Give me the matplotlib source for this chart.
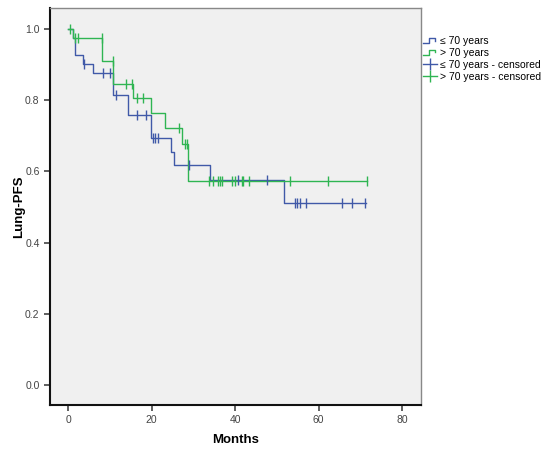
import matplotlib
matplotlib.use("Agg")
import matplotlib.pyplot as plt
from matplotlib.lines import Line2D
from matplotlib.legend_handler import HandlerBase

# --- data (Kaplan-Meier steps) ---
# <= 70 years
young_t = [0, 1.0, 1.5, 3.4, 5.8, 10.6, 14.2, 19.8, 24.5, 25.4, 34.0, 51.8, 71.5]
young_s = [1.0, 0.974, 0.927, 0.902, 0.876, 0.816, 0.758, 0.695, 0.655, 0.618, 0.576, 0.512, 0.512]
young_cens_t = [3.8, 8.2, 10.0, 11.4, 16.4, 18.6, 20.2, 20.9, 21.6, 29.0, 40.8, 47.7,
                54.4, 54.9, 55.6, 57.0, 65.6, 68.0, 71.2]
young_cens_s = [0.902, 0.876, 0.876, 0.816, 0.758, 0.758, 0.695, 0.695, 0.695, 0.618, 0.576, 0.576,
                0.512, 0.512, 0.512, 0.512, 0.512, 0.512, 0.512]

# > 70 years
old_t = [0, 1.0, 8.0, 10.8, 15.4, 19.8, 23.2, 27.2, 28.8, 71.7]
old_s = [1.0, 0.974, 0.910, 0.846, 0.805, 0.763, 0.723, 0.676, 0.573, 0.573]
old_cens_t = [0.3, 1.6, 2.2, 8.0, 10.8, 13.8, 15.2, 16.5, 18.0, 26.6, 28.0, 28.4,
              33.8, 34.8, 35.8, 36.4, 36.8, 39.2, 40.0, 41.6, 42.0, 43.3, 53.2, 62.2, 71.6]
old_cens_s = [1.0, 0.974, 0.974, 0.974, 0.910, 0.846, 0.846, 0.805, 0.805, 0.723, 0.676, 0.676,
              0.573, 0.573, 0.573, 0.573, 0.573, 0.573, 0.573, 0.573, 0.573, 0.573, 0.573, 0.573, 0.573]

labels = ["\u2264 70 years", "> 70 years", "\u2264 70 years - censored", "> 70 years - censored"]
x_ticks = [0, 20, 40, 60, 80]
y_ticks = [0.0, 0.2, 0.4, 0.6, 0.8, 1.0]

BLUE = "#4059a8"
GREEN = "#2fb552"

plt.rcParams["font.family"] = ["Liberation Sans", "DejaVu Sans"]


class StepHandler(HandlerBase):
    def create_artists(self, legend, orig_handle, xdescent, ydescent, width, height, fontsize, trans):
        w, h = width, height
        xs = [-xdescent, -xdescent + 0.45 * w, -xdescent + 0.45 * w, -xdescent + 0.85 * w, -xdescent + 0.85 * w]
        ys = [-ydescent + 0.15 * h, -ydescent + 0.15 * h, -ydescent + 0.85 * h, -ydescent + 0.85 * h, -ydescent + 0.45 * h]
        ln = Line2D(xs, ys, color=orig_handle.get_color(), lw=1.0, transform=trans)
        return [ln]


fig = plt.figure(figsize=(5.5, 4.51), dpi=100)
ax = fig.add_axes([50 / 550, 1 - 405 / 451, 370.7 / 550, 397 / 451])
ax.set_facecolor("#f0f0f0")

ax.step(young_t, young_s, where="post", color=BLUE, lw=1.0)
ax.step(old_t, old_s, where="post", color=GREEN, lw=1.0)
ax.plot(young_cens_t, young_cens_s, ls="none", marker="|", ms=7, mew=1.0, color=BLUE)
ax.plot(old_cens_t, old_cens_s, ls="none", marker="|", ms=7, mew=1.0, color=GREEN)

ax.set_xlim(-4.4, 84.5)
ax.set_ylim(-0.056, 1.059)
ax.set_xticks(x_ticks)
ax.set_xticklabels([str(v) for v in x_ticks])
ax.set_yticks(y_ticks)
ax.set_yticklabels([f"{v:.1f}" for v in y_ticks])
ax.tick_params(axis="both", labelsize=7.5, colors="#444444", length=4, width=1.2, direction="out")

for s in ("left", "bottom"):
    ax.spines[s].set_color("#111111")
    ax.spines[s].set_linewidth(1.5)
for s in ("top", "right"):
    ax.spines[s].set_color("#888888")
    ax.spines[s].set_linewidth(1.0)

ax.set_xlabel("Months", fontsize=9.5, fontweight="bold", labelpad=6)
ax.set_ylabel("Lung-PFS", fontsize=9.5, fontweight="bold", labelpad=0)

h_young = Line2D([], [], color=BLUE)
h_old = Line2D([], [], color=GREEN)
h_yc = Line2D([], [], color=BLUE, marker="|", ms=8, mew=1.0, lw=1.0)
h_oc = Line2D([], [], color=GREEN, marker="|", ms=8, mew=1.0, lw=1.0)
ax.legend([h_young, h_old, h_yc, h_oc], labels,
          handler_map={h_young: StepHandler(), h_old: StepHandler()},
          loc="upper left", bbox_to_anchor=(1.0, 0.935), frameon=False,
          fontsize=7.5, handlelength=1.35, handletextpad=0.3, labelspacing=0.18,
          borderaxespad=0.0, borderpad=0.2)

fig.savefig("out.png", dpi=100, facecolor="white")
